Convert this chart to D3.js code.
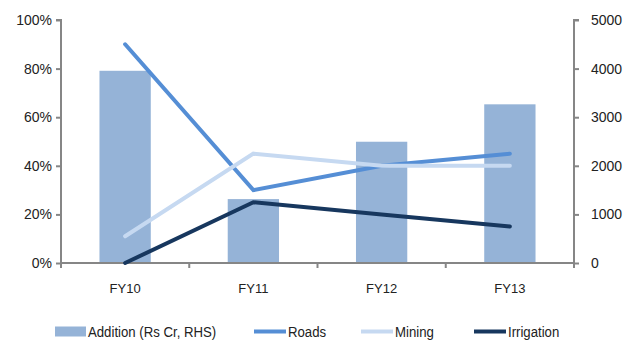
<!DOCTYPE html>
<head>
  <meta charset="utf-8">
  <script src="https://d3js.org/d3.v7.min.js"></script>
  <style>
    body { margin:0; background:#fff; }
    text { font-family: "Liberation Sans", Arial, sans-serif; fill:#222; }
  </style>
</head>

<body>
  <script>

    var width = 626,
        height = 340;

    // data
    var years = ["FY10", "FY11", "FY12", "FY13"];
    var addition = [3955, 1315, 2495, 3265];   // Rs Cr, right axis
    var roads = [0.90, 0.30, 0.40, 0.45];
    var mining = [0.11, 0.45, 0.40, 0.40];
    var irrigation = [0.00, 0.25, 0.20, 0.15];
    var leftTicks = [0, 0.2, 0.4, 0.6, 0.8, 1.0];
    var rightTicks = [0, 1000, 2000, 3000, 4000, 5000];

    var lines = [
      {name: "Roads", values: roads, color: "#558ED5"},
      {name: "Mining", values: mining, color: "#C6D9F1"},
      {name: "Irrigation", values: irrigation, color: "#17375E"}
    ];

    var x0 = 61, x1 = 574, yTop = 20, yBot = 263;
    var axisColor = "#868686";

    var svg = d3.select("body").append("svg")
      .attr("width", width)
      .attr("height", height);

    var x = d3.scaleBand().domain(years).range([x0, x1]).paddingInner(0.6).paddingOuter(0.3);
    var xb = d3.scaleBand().domain(years).range([x0, x1]);
    var yL = d3.scaleLinear().domain([0, 1]).range([yBot, yTop]);
    var yR = d3.scaleLinear().domain([0, 5000]).range([yBot, yTop]);

    // bars
    svg.selectAll("rect.bar").data(addition).enter()
      .append("rect")
      .attr("class", "bar")
      .attr("x", function(d, i) { return x(years[i]); })
      .attr("y", function(d) { return yR(d); })
      .attr("width", x.bandwidth())
      .attr("height", function(d) { return yBot - yR(d); })
      .attr("fill", "#95B3D7");

    // axes
    var leftAxis = d3.axisLeft(yL).tickValues(leftTicks).tickSize(5).tickPadding(4)
      .tickFormat(d3.format(".0%"));
    var gL = svg.append("g").attr("transform", "translate(" + x0 + ",0)").call(leftAxis);

    var rightAxis = d3.axisRight(yR).tickValues(rightTicks).tickSize(5).tickPadding(12)
      .tickFormat(d3.format("d"));
    var gR = svg.append("g").attr("transform", "translate(" + x1 + ",0)").call(rightAxis);

    [gL, gR].forEach(function(g) {
      g.select(".domain").attr("stroke", axisColor).attr("stroke-width", 2)
        .attr("d", g === gL ? "M-5," + yTop + "H0V" + yBot : "M5," + yTop + "H0V" + yBot);
      g.selectAll(".tick line").attr("stroke", axisColor).attr("stroke-width", 2);
      g.selectAll(".tick text").style("font-size", "14px").attr("fill", "#222");
    });

    // x axis
    var gx = svg.append("g");
    gx.append("line")
      .attr("x1", x0).attr("x2", x1).attr("y1", yBot).attr("y2", yBot)
      .attr("stroke", axisColor).attr("stroke-width", 2);
    gx.selectAll("line.tk").data(years.concat(["end"])).enter()
      .append("line")
      .attr("class", "tk")
      .attr("x1", function(d) { return d === "end" ? x1 : xb(d); })
      .attr("x2", function(d) { return d === "end" ? x1 : xb(d); })
      .attr("y1", yBot).attr("y2", yBot + 5)
      .attr("stroke", axisColor).attr("stroke-width", 2);
    gx.selectAll("text").data(years).enter()
      .append("text")
      .attr("x", function(d) { return xb(d) + xb.bandwidth() / 2; })
      .attr("y", 293)
      .attr("text-anchor", "middle")
      .style("font-size", "13px")
      .text(function(d) { return d; });

    // lines
    var line = d3.line()
      .x(function(d, i) { return xb(years[i]) + xb.bandwidth() / 2; })
      .y(function(d) { return yL(d); });

    svg.selectAll("path.series").data(lines).enter()
      .append("path")
      .attr("class", "series")
      .attr("d", function(d) { return line(d.values); })
      .attr("fill", "none")
      .attr("stroke", function(d) { return d.color; })
      .attr("stroke-width", 4)
      .attr("stroke-linecap", "round")
      .attr("stroke-linejoin", "miter");

    // legend (narrow text, squeezed horizontally)
    var leg = svg.append("g").attr("class", "legend");
    var ly = 331.5;
    function legText(xp, label) {
      leg.append("text")
        .attr("transform", "translate(" + xp + "," + (ly + 5) + ") scale(0.88,1)")
        .style("font-size", "15px")
        .text(label);
    }
    leg.append("rect").attr("x", 55).attr("y", ly - 5).attr("width", 31).attr("height", 10).attr("fill", "#95B3D7");
    legText(88, "Addition (Rs Cr, RHS)");

    var legX = [254, 361, 474];
    lines.forEach(function(s, i) {
      leg.append("line").attr("x1", legX[i]).attr("x2", legX[i] + 32).attr("y1", ly).attr("y2", ly)
        .attr("stroke", s.color).attr("stroke-width", 4);
      legText(legX[i] + 34, s.name);
    });

  </script>
</body>
